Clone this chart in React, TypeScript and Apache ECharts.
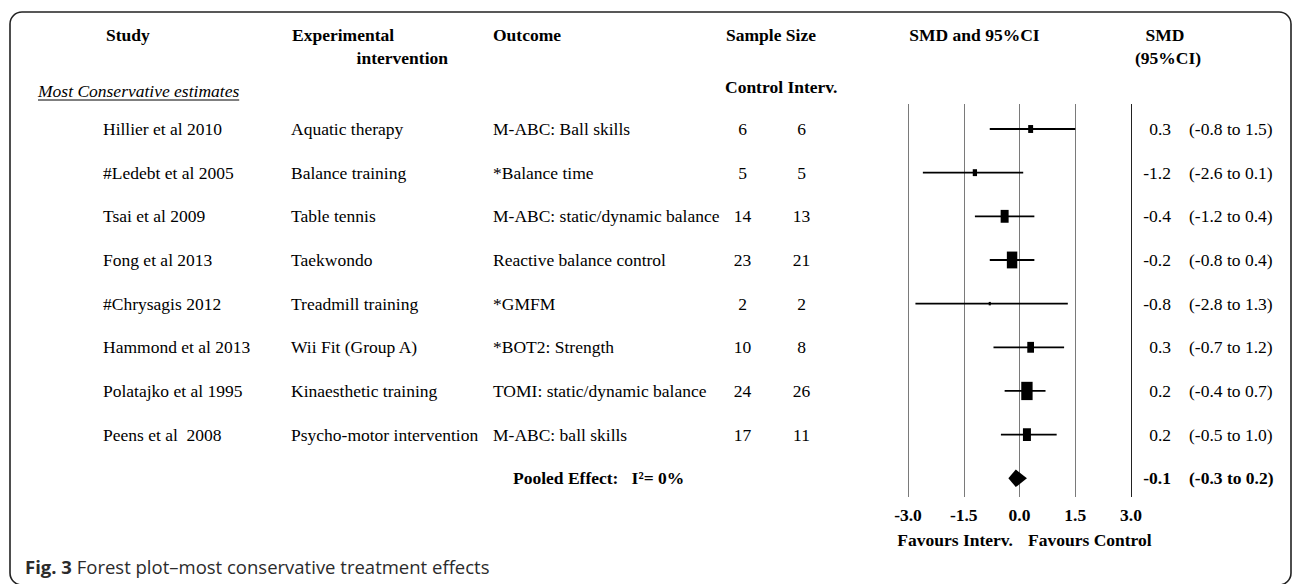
import React, { useEffect, useRef } from "react";
import * as echarts from "echarts";

// ---- Study data ----
const studies = [
  "Hillier et al 2010",
  "#Ledebt et al 2005",
  "Tsai et al 2009",
  "Fong et al 2013",
  "#Chrysagis 2012",
  "Hammond et al 2013",
  "Polatajko et al 1995",
  "Peens et al  2008",
];
const interventions = [
  "Aquatic therapy",
  "Balance training",
  "Table tennis",
  "Taekwondo",
  "Treadmill training",
  "Wii Fit (Group A)",
  "Kinaesthetic training",
  "Psycho-motor intervention",
];
const outcomes = [
  "M-ABC: Ball skills",
  "*Balance time",
  "M-ABC: static/dynamic balance",
  "Reactive balance control",
  "*GMFM",
  "*BOT2: Strength",
  "TOMI: static/dynamic balance",
  "M-ABC: ball skills",
];
const controlN = [6, 5, 14, 23, 2, 10, 24, 17];
const intervN = [6, 5, 13, 21, 2, 8, 26, 11];
const smd = [0.3, -1.2, -0.4, -0.2, -0.8, 0.3, 0.2, 0.2];
const ciLow = [-0.8, -2.6, -1.2, -0.8, -2.8, -0.7, -0.4, -0.5];
const ciHigh = [1.5, 0.1, 0.4, 0.4, 1.3, 1.2, 0.7, 1.0];
// relative study weights (%), drive the size of each square
const weights = [5.3, 4.0, 13.9, 23.8, 1.0, 9.9, 28.1, 13.9];

const pooledSmd = -0.1;
const pooledLow = -0.3;
const pooledHigh = 0.2;
const pooledLabel = "Pooled Effect:   I\u00B2= 0%";

// ---- Layout ----
const W = 1296;
const H = 584;
const SERIF = "'Liberation Serif', 'Times New Roman', serif";
const SANS = "'Open Sans', 'Noto Sans', sans-serif";
const FS = 17.5;
const PLOT_TOP = 104;
const PLOT_BOTTOM = 497;
const ROW0_Y = 129;
const ROW_STEP = 43.66;
const COL_STUDY = 103;
const COL_INTERV = 291;
const COL_OUTCOME = 493;
const COL_CTRL = 742.5;
const COL_INT_N = 801.5;
const COL_SMD_R = 1171;
const COL_CI = 1189;

const fmt = (v: number) => v.toFixed(1);

function measure(text: string, font: string) {
  const c = document.createElement("canvas").getContext("2d");
  if (!c) return text.length * 7;
  c.font = font;
  return c.measureText(text).width;
}

export default function App() {
  const ref = useRef<HTMLDivElement>(null);

  useEffect(() => {
    if (!ref.current) return;
    const chart = echarts.init(ref.current, null, { renderer: "svg" });

    const rowCount = studies.length + 1;
    const yMin = (PLOT_TOP - ROW0_Y) / ROW_STEP;
    const yMax = (PLOT_BOTTOM - ROW0_Y) / ROW_STEP;

    const serifText = (text: string, bold = false) => ({
      text,
      fill: "#000",
      fontFamily: SERIF,
      fontSize: FS,
      fontWeight: bold ? "bold" : "normal",
      verticalAlign: "middle",
    });

    const forestData = studies.map((_, i) => [smd[i], ciLow[i], ciHigh[i], weights[i], i]);
    const tableData = studies.map((_, i) => [0, i]);

    const subTitle = "Most Conservative estimates";
    const subFont = `italic ${FS}px ${SERIF}`;
    const subWidth = measure(subTitle, subFont);

    const option: any = {
      animation: false,
      backgroundColor: "#fff",
      grid: [
        { left: 908, right: W - 1131, top: PLOT_TOP, bottom: H - PLOT_BOTTOM },
        { left: 0, right: 0, top: PLOT_TOP, bottom: H - PLOT_BOTTOM },
      ],
      xAxis: [
        {
          type: "value",
          gridIndex: 0,
          min: -3,
          max: 3,
          interval: 1.5,
          axisLine: { show: false },
          axisTick: { show: false },
          splitLine: {
            show: true,
            lineStyle: { color: ["#7a7a7a", "#7a7a7a", "#7a7a7a", "#7a7a7a", "#222"], width: 1 },
          },
          axisLabel: {
            formatter: (v: number) => fmt(v),
            fontFamily: SERIF,
            fontSize: FS,
            fontWeight: "bold",
            color: "#000",
            margin: 9,
            showMinLabel: true,
            showMaxLabel: true,
          },
        },
        { type: "value", gridIndex: 1, min: 0, max: W, show: false },
      ],
      yAxis: [
        { type: "value", gridIndex: 0, min: yMin, max: yMax, inverse: true, show: false },
        { type: "value", gridIndex: 1, min: yMin, max: yMax, inverse: true, show: false },
      ],
      series: [
        {
          // confidence intervals and weighted squares
          type: "custom",
          xAxisIndex: 0,
          yAxisIndex: 0,
          data: forestData,
          encode: { x: [0, 1, 2], y: 4 },
          renderItem: (_p: any, api: any) => {
            const m = api.value(0);
            const lo = api.value(1);
            const hi = api.value(2);
            const w = api.value(3);
            const r = api.value(4);
            const pL = api.coord([lo, r]);
            const pH = api.coord([hi, r]);
            const pM = api.coord([m, r]);
            const h = 3.45 * Math.sqrt(w);
            const bw = 0.62 * h;
            return {
              type: "group",
              children: [
                {
                  type: "line",
                  shape: { x1: pL[0], y1: pL[1], x2: pH[0], y2: pH[1] },
                  style: { stroke: "#000", lineWidth: 1.8 },
                },
                {
                  type: "rect",
                  shape: { x: pM[0] - bw / 2, y: pM[1] - h / 2, width: bw, height: h },
                  style: { fill: "#000" },
                },
              ],
            };
          },
        },
        {
          // pooled estimate diamond
          type: "custom",
          xAxisIndex: 0,
          yAxisIndex: 0,
          data: [[pooledSmd, pooledLow, pooledHigh, rowCount - 1]],
          encode: { x: [0, 1, 2], y: 3 },
          renderItem: (_p: any, api: any) => {
            const r = api.value(3);
            const pL = api.coord([api.value(1), r]);
            const pH = api.coord([api.value(2), r]);
            const pM = api.coord([api.value(0), r]);
            const hh = 8.8;
            return {
              type: "polygon",
              shape: {
                points: [
                  [pL[0], pM[1]],
                  [pM[0], pM[1] - hh],
                  [pH[0], pM[1]],
                  [pM[0], pM[1] + hh],
                ],
              },
              style: { fill: "#000" },
            };
          },
        },
        {
          // table columns for each study row
          type: "custom",
          xAxisIndex: 1,
          yAxisIndex: 1,
          data: tableData,
          encode: { x: 0, y: 1 },
          renderItem: (p: any, api: any) => {
            const i = p.dataIndex;
            const y = api.coord([0, api.value(1)])[1];
            const t = (x: number, text: string, align: string) => ({
              type: "text",
              x,
              y,
              style: { ...serifText(text), align },
            });
            return {
              type: "group",
              children: [
                t(COL_STUDY, studies[i], "left"),
                t(COL_INTERV, interventions[i], "left"),
                t(COL_OUTCOME, outcomes[i], "left"),
                t(COL_CTRL, String(controlN[i]), "center"),
                t(COL_INT_N, String(intervN[i]), "center"),
                t(COL_SMD_R, fmt(smd[i]), "right"),
                t(COL_CI, `(${fmt(ciLow[i])} to ${fmt(ciHigh[i])})`, "left"),
              ],
            };
          },
        },
        {
          // pooled row text
          type: "custom",
          xAxisIndex: 1,
          yAxisIndex: 1,
          data: [[0, rowCount - 1]],
          encode: { x: 0, y: 1 },
          renderItem: (_p: any, api: any) => {
            const y = api.coord([0, api.value(1)])[1];
            return {
              type: "group",
              children: [
                { type: "text", x: 513, y, style: { ...serifText(pooledLabel, true), align: "left" } },
                { type: "text", x: COL_SMD_R, y, style: { ...serifText(fmt(pooledSmd), true), align: "right" } },
                {
                  type: "text",
                  x: COL_CI,
                  y,
                  style: { ...serifText(`(${fmt(pooledLow)} to ${fmt(pooledHigh)})`, true), align: "left" },
                },
              ],
            };
          },
        },
      ],
      graphic: [
        {
          type: "rect",
          shape: { x: 10, y: 12, width: 1281, height: 573, r: 12 },
          style: { fill: "none", stroke: "#222", lineWidth: 1.6 },
          silent: true,
        },
        { type: "text", x: 106, y: 35, style: { ...serifText("Study", true), align: "left" } },
        { type: "text", x: 292, y: 35, style: { ...serifText("Experimental", true), align: "left" } },
        { type: "text", x: 448, y: 58, style: { ...serifText("intervention", true), align: "right" } },
        { type: "text", x: COL_OUTCOME, y: 35, style: { ...serifText("Outcome", true), align: "left" } },
        { type: "text", x: 771, y: 35, style: { ...serifText("Sample Size", true), align: "center" } },
        { type: "text", x: 725, y: 87, style: { ...serifText("Control Interv.", true), align: "left" } },
        { type: "text", x: 974.5, y: 35, style: { ...serifText("SMD and 95%CI", true), align: "center" } },
        { type: "text", x: 1165, y: 35, style: { ...serifText("SMD", true), align: "center" } },
        { type: "text", x: 1168, y: 58, style: { ...serifText("(95%CI)", true), align: "center" } },
        {
          type: "text",
          x: 38,
          y: 91,
          style: { ...serifText(subTitle), fontStyle: "italic", align: "left" },
        },
        {
          type: "line",
          shape: { x1: 38, y1: 100, x2: 38 + subWidth, y2: 100 },
          style: { stroke: "#000", lineWidth: 1 },
        },
        { type: "text", x: 1013, y: 540, style: { ...serifText("Favours Interv.", true), align: "right" } },
        { type: "text", x: 1028, y: 540, style: { ...serifText("Favours Control", true), align: "left" } },
        {
          type: "text",
          x: 25,
          y: 566,
          style: {
            text: "{b|Fig. 3} Forest plot\u2013most conservative treatment effects",
            fill: "#2b2b2b",
            fontFamily: SANS,
            fontSize: 18.5,
            verticalAlign: "middle",
            align: "left",
            rich: {
              b: {
                fontWeight: "bold",
                fontFamily: SANS,
                fontSize: 18.5,
                fill: "#2b2b2b",
              },
            },
          },
        },
      ],
    };

    chart.setOption(option);
    return () => chart.dispose();
  }, []);

  return (
    <div
      ref={ref}
      style={{ position: "fixed", left: 0, top: 0, width: W, height: H, background: "#fff" }}
    />
  );
}
